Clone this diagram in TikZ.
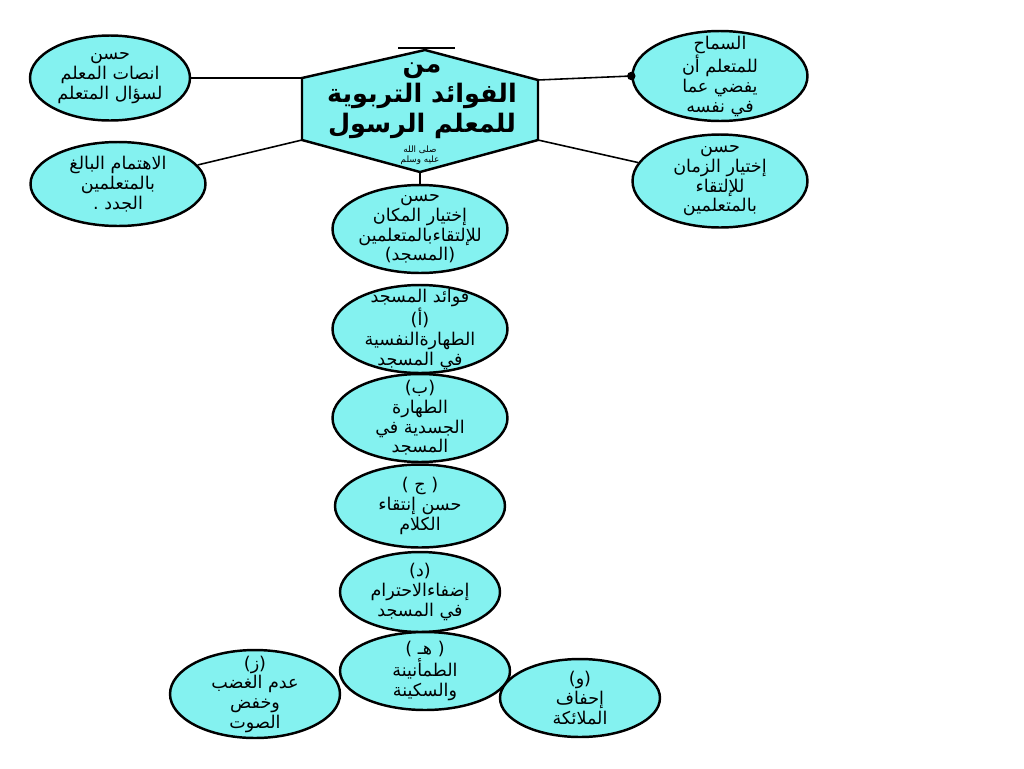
\documentclass[tikz,border=0pt]{standalone}
\usepackage{fontspec}
\usetikzlibrary{shapes.geometric}
\TeXXeTstate=1
\newfontfamily\arabicfont[Script=Arabic]{DejaVu Sans}
\definecolor{bubblecyan}{HTML}{84F2F0}
\newcommand{\rl}[1]{\beginR #1\endR}

\tikzset{
  bubble/.style={ellipse,draw=black,line width=1.4pt,fill=bubblecyan,
    minimum width=3.5cm,minimum height=1.76cm,inner sep=-1cm,align=center,
    font=\arabicfont\fontsize{10}{11.2}\selectfont},
  link/.style={black,line width=.9pt},
  hexline/.style={draw=black,line width=1.4pt,fill=bubblecyan,line join=miter}
}

\begin{document}
\begin{tikzpicture}[x=.02cm,y=-.02cm]
  \useasboundingbox[fill=white] (0,0) rectangle (1024,768);

  % the hexagon in the middle
  \coordinate (htop) at (425,50);
  \coordinate (hur) at (538,80);
  \coordinate (hlr) at (538,140);
  \coordinate (hbot) at (420,172);
  \coordinate (hll) at (302,140);
  \coordinate (hul) at (302,78);
  \draw[hexline] (htop) -- (hur) -- (hlr) -- (hbot) -- (hll) -- (hul) -- cycle;
  \coordinate (capl) at (398,48);
  \coordinate (capr) at (455,48);
  \draw[link] (capl) -- (capr);
  \node[align=center,font=\arabicfont\bfseries\fontsize{14.5}{17}\selectfont]
    (title) at (422,101) {\rl{من}\\ \rl{الفوائد التربوية}\\ \rl{للمعلم الرسول}};
  \node[font=\arabicfont\fontsize{5}{5.5}\selectfont,align=center]
    (salla) at (420,155) {\rl{صلى الله}\\ \rl{عليه وسلم}};

  % side bubbles
  \node[bubble,minimum width=3.2cm,minimum height=1.7cm] (e1) at (110,78)
    {\rl{حسن}\\ \rl{انصات المعلم}\\ \rl{لسؤال المتعلم}};
  \node[bubble,minimum height=1.68cm] (e2) at (118,184)
    {\rl{الاهتمام البالغ}\\ \rl{بالمتعلمين}\\ \rl{الجدد .}};
  \node[bubble,minimum height=1.8cm] (e3) at (720,76)
    {\rl{السماح}\\ \rl{للمتعلم أن}\\ \rl{يفضي عما}\\ \rl{في نفسه}};
  \node[bubble,minimum height=1.86cm] (e4) at (720,181)
    {\rl{حسن}\\ \rl{إختيار الزمان}\\ \rl{للإلتقاء}\\ \rl{بالمتعلمين}};

  % column under the hexagon
  \node[bubble] (c1) at (420,229)
    {\rl{حسن}\\ \rl{إختيار المكان}\\ \rl{للإلتقاءبالمتعلمين}\\ \rl{(المسجد)}};
  \node[bubble] (c2) at (420,329)
    {\rl{فوائد المسجد}\\ \rl{(أ)}\\ \rl{الطهارةالنفسية}\\ \rl{في المسجد}};
  \node[bubble] (c3) at (420,418)
    {\rl{(ب)}\\ \rl{الطهارة}\\ \rl{الجسدية في}\\ \rl{المسجد}};
  \node[bubble,minimum width=3.4cm,minimum height=1.66cm] (c4) at (420,506)
    {\rl{( ج )}\\ \rl{حسن إنتقاء}\\ \rl{الكلام}};
  \node[bubble,minimum width=3.2cm,minimum height=1.6cm] (c5) at (420,592)
    {\rl{(د)}\\ \rl{إضفاءالاحترام}\\ \rl{في المسجد}};
  \node[bubble,minimum width=3.4cm,minimum height=1.56cm] (c6) at (425,671)
    {\rl{( هـ )}\\ \rl{الطمأنينة}\\ \rl{والسكينة}};
  \node[bubble,minimum width=3.2cm,minimum height=1.56cm] (c7) at (580,698)
    {\rl{(و)}\\ \rl{إحفاف}\\ \rl{الملائكة}};
  \node[bubble,minimum width=3.4cm,minimum height=1.76cm] (c8) at (255,694)
    {\rl{(ز)}\\ \rl{عدم الغضب}\\ \rl{وخفض}\\ \rl{الصوت}};

  % connectors
  \draw[link] (hul) -- (e1.east);
  \draw[link] (hll) -- (e2);
  \draw[link] (hur) -- (e3.west);
  \fill (e3.west) circle (2.4pt);
  \draw[link] (hlr) -- (e4);
  \draw[link] (hbot) -- (c1.north);
\end{tikzpicture}
\end{document}
